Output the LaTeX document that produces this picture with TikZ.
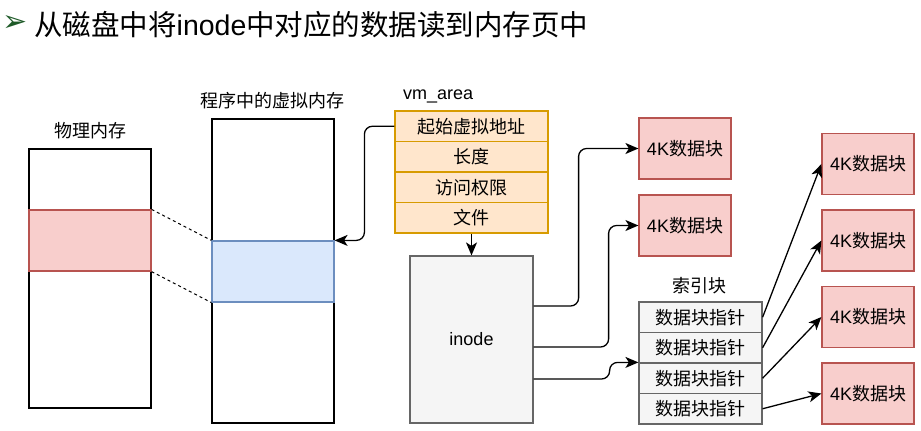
\documentclass[tikz,border=0pt]{standalone}
\usepackage{fontspec}
\setmainfont{Noto Sans CJK SC}
\newfontfamily\lat{Liberation Sans}
\newfontfamily\symf{DejaVu Sans}
\usetikzlibrary{arrows.meta,calc}
\definecolor{redfill}{HTML}{F8CECC}
\definecolor{redline}{HTML}{B85450}
\definecolor{bluefill}{HTML}{DAE8FC}
\definecolor{blueline}{HTML}{6C8EBF}
\definecolor{orfill}{HTML}{FFE6CC}
\definecolor{orline}{HTML}{D79B00}
\definecolor{grfill}{HTML}{F5F5F5}
\definecolor{grline}{HTML}{666666}
\definecolor{titlegreen}{HTML}{1E5A28}
\begin{document}
\begin{tikzpicture}[x=1pt,y=-1pt,
  font=\fontsize{18}{21}\selectfont,
  plain/.style={draw=black,line width=1.2pt,fill=white,inner sep=0pt},
  redbox/.style={draw=redline,fill=redfill,line width=1.2pt,inner sep=0pt},
  bluebox/.style={draw=blueline,fill=bluefill,line width=1.2pt,inner sep=0pt},
  orrow/.style={draw=orline,fill=orfill,line width=1.2pt,inner sep=0pt,minimum width=153pt,minimum height=30.5pt},
  grrow/.style={draw=grline,fill=grfill,line width=1.2pt,inner sep=0pt,minimum width=123pt,minimum height=30.5pt},
  datablk/.style={redbox,minimum width=92pt,minimum height=61pt},
  lbl/.style={inner sep=0pt},
  conn/.style={draw=black,line width=1.3pt,-{Stealth[length=13pt,width=11pt,inset=3.5pt]}},
  elbow/.style={conn,rounded corners=8pt},
  mapline/.style={draw=black,line width=1pt,dashed,dash pattern=on 3pt off 3pt}
]
\useasboundingbox (0,0) rectangle (921,431);
% title
\node[lbl,anchor=center] (bullet) at (15,24) {\symf\fontsize{30}{32}\selectfont\color{titlegreen}➢};
\node[lbl,anchor=west] (title) at (34,25) {\fontsize{28.5}{32}\selectfont 从磁盘中将{\lat inode}中对应的数据读到内存页中};
% physical memory
\node[lbl] (physlbl) at (90,131) {物理内存};
\node[plain,minimum width=122pt,minimum height=259pt] (phys) at (90,278.5) {};
\node[redbox,minimum width=122pt,minimum height=61pt] (page) at (90,240.5) {};
% virtual memory
\node[lbl] (virtlbl) at (272,101) {程序中的虚拟内存};
\node[plain,minimum width=122pt,minimum height=304pt] (virt) at (273,271) {};
\node[bluebox,minimum width=122pt,minimum height=61pt] (vpage) at (273,271.5) {};
\draw[mapline] (page.north east) -- (vpage.north west);
\draw[mapline] (page.south east) -- (vpage.south west);
% vm_area
\node[lbl,anchor=west] (vmlbl) at (403,96) {\lat vm\_area};
\node[orrow] (r1) at (471.5,126.25) {起始虚拟地址};
\node[orrow] (r2) at (471.5,156.75) {长度};
\node[orrow] (r3) at (471.5,187.25) {访问权限};
\node[orrow] (r4) at (471.5,217.75) {文件};
% inode
\node[draw=grline,fill=grfill,line width=1.2pt,inner sep=0pt,minimum width=123pt,minimum height=167pt] (inode) at (471.5,339.5) {\lat inode};
\draw[conn] (r4.south) -- (inode.north);
\draw[elbow] (r1.west) -- ++(-30,0) |- (vpage.north east);
% direct data blocks
\node[datablk] (b1) at (685,148.5) {{\lat 4K}数据块};
\node[datablk] (b2) at (685,225.5) {{\lat 4K}数据块};
% index block
\node[lbl] (idxlbl) at (699,286) {索引块};
\node[grrow] (i1) at (700.5,317.25) {数据块指针};
\node[grrow] (i2) at (700.5,347.75) {数据块指针};
\node[grrow] (i3) at (700.5,378.25) {数据块指针};
\node[grrow] (i4) at (700.5,408.75) {数据块指针};
% indirect data blocks
\node[datablk] (c1) at (868,164) {{\lat 4K}数据块};
\node[datablk] (c2) at (868,240.5) {{\lat 4K}数据块};
\node[datablk] (c3) at (868,317) {{\lat 4K}数据块};
\node[datablk] (c4) at (868,393.5) {{\lat 4K}数据块};
% inode connectors
\draw[elbow] ($(inode.east)+(0,-33.5)$) -- ++(45,0) |- (b1.west);
\draw[elbow] ($(inode.east)+(0,7.5)$) -- ++(75,0) |- (b2.west);
\draw[elbow] ($(inode.east)+(0,39.5)$) -- ++(76,0) |- (i3.north west);
% index pointers
\draw[conn] (i1.east) -- (c1.west);
\draw[conn] (i2.east) -- (c2.west);
\draw[conn] (i3.east) -- (c3.west);
\draw[conn] (i4.east) -- (c4.west);
\end{tikzpicture}
\end{document}
